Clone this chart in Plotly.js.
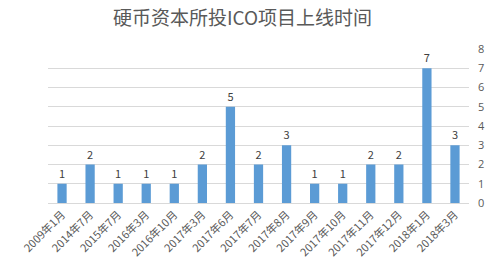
<!DOCTYPE html>
<html><head><meta charset="utf-8">
<script src="https://cdn.plot.ly/plotly-3.0.1.min.js"></script>
<style>html,body{margin:0;padding:0;background:#fff;}#chart{width:500px;height:277px;}</style>
</head><body><div id="chart"></div>
<script>
const categories = ["2009年1月","2014年7月","2015年7月","2016年3月","2016年10月","2017年3月","2017年6月","2017年7月","2017年8月","2017年9月","2017年10月","2017年11月","2017年12月","2018年1月","2018年3月"];
const counts = [1,2,1,1,1,2,5,2,3,1,1,2,2,7,3];
const yTicks = [0,1,2,3,4,5,6,7,8];

const trace = {
  type: 'bar', x: categories, y: counts,
  marker: {color: '#5b9bd5'},
  text: counts.map(String), textposition: 'outside',
  textfont: {family: '"Noto Sans CJK SC", "Open Sans", sans-serif', size: 11, color: '#404040'},
  cliponaxis: false, hoverinfo: 'none'
};
const layout = {
  width: 500, height: 277,
  margin: {l: 48, r: 31, t: 49, b: 74},
  paper_bgcolor: '#fff', plot_bgcolor: '#fff',
  title: {text: '硬币资本所投ICO项目上线时间', x: 0.485, xanchor: 'center', y: 0.935, yanchor: 'middle',
    font: {family: '"Noto Sans CJK SC", sans-serif', size: 19, color: '#595959'}},
  bargap: 0.67,
  showlegend: false,
  xaxis: {type: 'category', tickangle: -45, showgrid: false, showline: true, linecolor: '#d9d9d9',
    ticks: '', tickfont: {family: '"Noto Sans CJK SC", sans-serif', size: 11, color: '#595959'}},
  yaxis: {side: 'right', range: [0, 8], tickvals: yTicks, ticktext: yTicks.map(String),
    showgrid: true, gridcolor: '#d9d9d9', zeroline: false, ticks: '', ticklabelstandoff: 8,
    tickfont: {family: '"Open Sans", sans-serif', size: 11, color: '#595959'}}
};
Plotly.newPlot('chart', [trace], layout, {staticPlot: true, displayModeBar: false});
</script></body></html>
